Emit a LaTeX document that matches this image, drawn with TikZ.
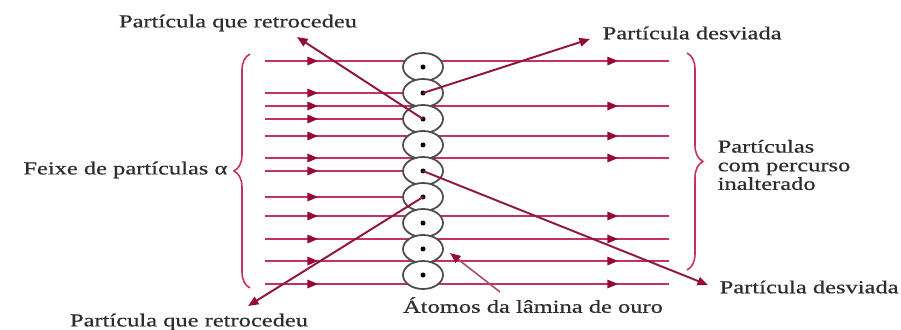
\documentclass[tikz,border=0pt]{standalone}
\usepackage{fontspec}
\setmainfont[FakeStretch=1.34,FakeBold=0.6]{Liberation Serif}
\usetikzlibrary{arrows.meta,shapes.geometric,decorations.pathreplacing}
\definecolor{raio}{RGB}{196,50,100}
\definecolor{ponta}{RGB}{150,10,50}
\definecolor{desvio}{RGB}{145,20,60}
\definecolor{texto}{RGB}{45,45,45}

\begin{document}
\begin{tikzpicture}[
    feixe/.style={raio, line width=0.45pt},
    seta/.style={-{Triangle[length=3pt,width=2.4pt,color=ponta]}},
    atomo/.style={ellipse, draw=black!70, fill=white, line width=0.5pt,
      minimum width=0.40cm, minimum height=0.28cm, inner sep=0pt},
    chave/.style={decorate, decoration={brace, amplitude=0.16cm}, raio, line width=0.45pt},
    rotulo/.style={font=\fontsize{5.2}{5.3}\selectfont, text=texto, inner sep=0pt}]
  \useasboundingbox (0,0) rectangle (9.01,3.29);

  % linhas que passam direto
  \foreach \y in {2.68,2.23,1.93,1.71,1.13,0.90,0.68,0.45} {
    \draw[feixe] (2.65,\y) -- (6.69,\y);
    \draw[feixe,seta] (2.65,\y) -- (3.18,\y);
    \draw[feixe,seta] (4.80,\y) -- (6.18,\y);
  }
  % linhas que batem num nucleo
  \foreach \y in {2.36,2.10,1.58,1.32} {
    \draw[feixe] (2.65,\y) -- (4.23,\y);
    \draw[feixe,seta] (2.65,\y) -- (3.18,\y);
  }

  % atomos da lamina
  \foreach \i in {1,...,9} {
    \node[atomo] (a\i) at (4.23,{2.62-0.26*(\i-1)}) {};
    \fill (a\i) circle (0.025);
  }

  \node[rotulo] (lr1) at (2.38,3.06) {Partícula que retrocedeu};
  \node[rotulo, anchor=west] (ld1) at (6.02,2.96) {Partícula desviada};
  \node[rotulo, anchor=west] (ld2) at (7.19,0.42) {Partícula desviada};
  \node[rotulo] (lr2) at (1.89,0.07) {Partícula que retrocedeu};
  \node[rotulo] (lat) at (5.33,0.24) {Átomos da lâmina de ouro};
  \node[rotulo, anchor=east] (lfeixe) at (2.28,1.59) {Feixe de partículas α};
  \node[rotulo, anchor=west, align=left] (lint) at (7.17,1.64) {Partículas\\com percurso\\inalterado};

  \coordinate (r1) at (2.97,2.92);
  \coordinate (d1) at (5.90,2.90);
  \coordinate (d2) at (7.08,0.44);
  \coordinate (r2) at (2.48,0.23);
  \draw[desvio, line width=0.55pt, seta] (a3.center) -- (r1);
  \draw[desvio, line width=0.55pt, seta] (a2.center) -- (d1);
  \draw[desvio, line width=0.55pt, seta] (a5.center) -- (d2);
  \draw[desvio, line width=0.55pt, seta] (a6.center) -- (r2);

  % ponteiro dos atomos
  \coordinate (p0) at (5.00,0.37);
  \coordinate (p1) at (4.50,0.76);
  \draw[raio!70!gray, line width=0.45pt, seta] (p0) -- (p1);

  \draw[chave] (2.50,0.41) -- (2.50,2.75);
  \draw[chave] (6.87,2.76) -- (6.87,0.59);
\end{tikzpicture}
\end{document}
